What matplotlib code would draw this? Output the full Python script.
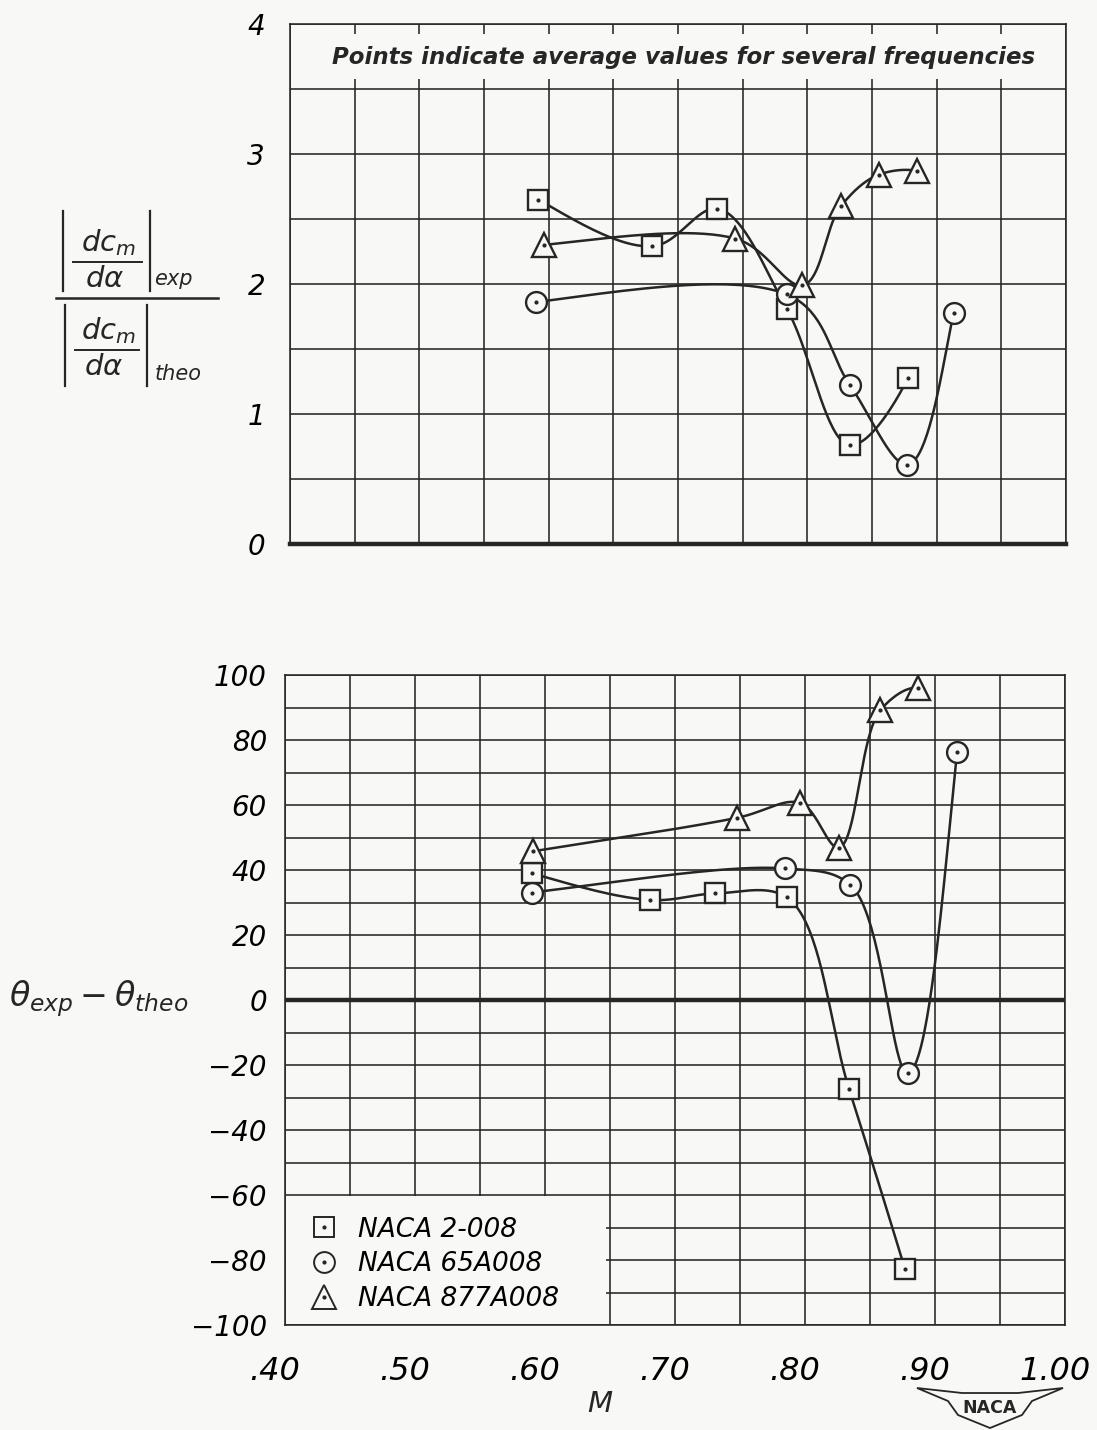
import numpy as np
import matplotlib
matplotlib.use("Agg")
import matplotlib.pyplot as plt
from matplotlib.patches import Rectangle, Polygon
from matplotlib.lines import Line2D
from matplotlib.transforms import ScaledTranslation

plt.rcParams["font.family"] = ["DejaVu Sans"]
plt.rcParams["font.style"] = "italic"
plt.rcParams["mathtext.fontset"] = "dejavusans"

PAPER = "#f8f8f6"
INK = "#262626"
W, H = 1097, 1430

# Mach number / ratio of pitching-moment slopes (exp / theo)
m_top_2008 = [0.592, 0.680, 0.730, 0.784, 0.833, 0.878]
r_top_2008 = [2.65, 2.29, 2.58, 1.81, 0.76, 1.28]
m_top_65a = [0.590, 0.784, 0.833, 0.877, 0.913]
r_top_65a = [1.86, 1.92, 1.22, 0.61, 1.78]
m_top_877 = [0.596, 0.744, 0.796, 0.826, 0.855, 0.885]
r_top_877 = [2.30, 2.35, 1.99, 2.60, 2.84, 2.87]

# Mach number / phase difference (deg)
m_bot_2008 = [0.590, 0.681, 0.731, 0.786, 0.834, 0.877]
p_bot_2008 = [39.0, 30.8, 32.8, 31.6, -27.5, -82.9]
m_bot_65a = [0.590, 0.785, 0.835, 0.879, 0.917]
p_bot_65a = [33.1, 40.5, 35.4, -22.4, 76.4]
m_bot_877 = [0.591, 0.748, 0.796, 0.826, 0.858, 0.887]
p_bot_877 = [45.8, 56.1, 60.7, 46.9, 89.2, 95.9]

airfoils = ["NACA 2-008", "NACA 65A008", "NACA 877A008"]
markers = ["s", "o", "^"]
marker_sizes = [14, 15, 17]

x_ticks = [0.40, 0.50, 0.60, 0.70, 0.80, 0.90, 1.00]
x_tick_labels = [".40", ".50", ".60", ".70", ".80", ".90", "1.00"]
top_y_ticks = [0, 1, 2, 3, 4]
top_y_labels = ["0", "1", "2", "3", "4"]
bot_y_ticks = [-100, -80, -60, -40, -20, 0, 20, 40, 60, 80, 100]
bot_y_labels = ["\u2212100", "\u221280", "\u221260", "\u221240", "\u221220",
                "0", "20", "40", "60", "80", "100"]


def faired(xs, ys, sx, sy, n=40, alpha=0.5):
    # centripetal Catmull-Rom through the test points; end points get a
    # quadratic run-out so the curve keeps bending past the last point
    P = np.column_stack([np.asarray(xs) / sx, np.asarray(ys) / sy])
    head = 3 * P[0] - 3 * P[1] + P[2]
    tail = 3 * P[-1] - 3 * P[-2] + P[-3]
    P = np.vstack([head, P, tail])
    out = []
    for i in range(1, len(P) - 2):
        p0, p1, p2, p3 = P[i - 1], P[i], P[i + 1], P[i + 2]
        t0 = 0.0
        t1 = t0 + np.linalg.norm(p1 - p0) ** alpha
        t2 = t1 + np.linalg.norm(p2 - p1) ** alpha
        t3 = t2 + np.linalg.norm(p3 - p2) ** alpha
        t = np.linspace(t1, t2, n)[:, None]
        a1 = (t1 - t) / (t1 - t0) * p0 + (t - t0) / (t1 - t0) * p1
        a2 = (t2 - t) / (t2 - t1) * p1 + (t - t1) / (t2 - t1) * p2
        a3 = (t3 - t) / (t3 - t2) * p2 + (t - t2) / (t3 - t2) * p3
        b1 = (t2 - t) / (t2 - t0) * a1 + (t - t0) / (t2 - t0) * a2
        b2 = (t3 - t) / (t3 - t1) * a2 + (t - t1) / (t3 - t1) * a3
        out.append((t2 - t) / (t2 - t1) * b1 + (t - t1) / (t2 - t1) * b2)
    c = np.vstack(out)
    return c[:, 0] * sx, c[:, 1] * sy


def draw_series(ax, xs, ys, marker, ms, sy):
    cx, cy = faired(xs, ys, 0.6, sy)
    ax.plot(cx, cy, color=INK, lw=1.8, zorder=3)
    ax.plot(xs, ys, ls="none", marker=marker, ms=ms, mfc=PAPER, mec=INK,
            mew=1.7, zorder=4)
    ax.plot(xs, ys, ls="none", marker="o", ms=2, color=INK, zorder=5)


def style_grid(ax, ygrid):
    ax.set_xlim(0.40, 1.00)
    ax.set_facecolor(PAPER)
    ax.set_xticks(np.arange(0.40, 1.001, 0.05), minor=True)
    ax.set_yticks(ygrid, minor=True)
    ax.grid(True, which="both", color=INK, lw=1.15)
    ax.set_axisbelow(True)
    ax.tick_params(which="both", length=0)
    for s in ax.spines.values():
        s.set_color(INK)
        s.set_linewidth(1.15)


def px(x, y):
    return x / W, 1 - y / H


fig = plt.figure(figsize=(10.97, 14.30), dpi=100, facecolor=PAPER)

# ---- upper chart: slope ratio ----
ax1 = fig.add_axes([0.2644, 0.6196, 0.7074, 0.3636])
style_grid(ax1, np.arange(0, 4.01, 0.5))
ax1.set_ylim(0, 4)
ax1.set_xticks(x_ticks)
ax1.set_xticklabels([])
ax1.set_yticks(top_y_ticks)
ax1.set_yticklabels(top_y_labels, fontsize=20)
ax1.tick_params(axis="y", pad=18)
ax1.spines["bottom"].set_linewidth(3.2)

ax1.add_patch(Rectangle((0.4015, 3.58), 0.596, 0.34, facecolor=PAPER,
                        edgecolor="none", zorder=1))
ax1.text(0.704, 3.74, "Points indicate average values for several frequencies",
         fontsize=16.5, fontweight="bold", ha="center", va="center",
         color=INK, zorder=6)

top_sets = [(m_top_2008, r_top_2008), (m_top_65a, r_top_65a), (m_top_877, r_top_877)]
for (xs, ys), mk, ms in zip(top_sets, markers, marker_sizes):
    draw_series(ax1, xs, ys, mk, ms, 4.0)

# ---- lower chart: phase difference ----
ax2 = fig.add_axes([0.2598, 0.0734, 0.7110, 0.4545])
style_grid(ax2, np.arange(-100, 101, 10))
ax2.set_ylim(-100, 100)
ax2.set_xticks(x_ticks)
ax2.set_xticklabels(x_tick_labels, fontsize=23)
ax2.set_yticks(bot_y_ticks)
ax2.set_yticklabels(bot_y_labels, fontsize=20)
ax2.tick_params(axis="y", pad=13)
ax2.tick_params(axis="x", pad=22)
shift = ScaledTranslation(-10 / 100, 0, fig.dpi_scale_trans)
for lab in ax2.get_xticklabels():
    lab.set_transform(lab.get_transform() + shift)
ax2.axhline(0, color=INK, lw=3.2, zorder=2)

bot_sets = [(m_bot_2008, p_bot_2008), (m_bot_65a, p_bot_65a), (m_bot_877, p_bot_877)]
for (xs, ys), mk, ms in zip(bot_sets, markers, marker_sizes):
    draw_series(ax2, xs, ys, mk, ms, 200.0)

# key box blanks out the grid in the lower-left corner
ax2.add_patch(Rectangle((0.4008, -99.6), 0.2465, 39.2, facecolor=PAPER,
                        edgecolor="none", zorder=1))
handles = []
for mk, ms in zip(markers, marker_sizes):
    h1 = Line2D([], [], ls="none", marker=mk, ms=ms, mfc=PAPER, mec=INK, mew=1.4)
    h2 = Line2D([], [], ls="none", marker="o", ms=2, color=INK)
    handles.append((h1, h2))
ax2.legend(handles, airfoils, loc="upper left", bbox_to_anchor=(0.016, 0.183),
           frameon=False, fontsize=19, handlelength=1.2, handletextpad=0.7,
           labelspacing=0.33, borderaxespad=0)

# upper ordinate title: |dcm/da|exp over |dcm/da|theo
def slope_group(xl, xr, ytop, ybot, ybar, sub, xsub):
    for xb in (xl, xr):
        fig.add_artist(Line2D(*zip(px(xb, ytop), px(xb, ybot)), color=INK,
                              lw=1.6, transform=fig.transFigure))
    xm = (xl + xr) / 2 + 2
    fig.add_artist(Line2D(*zip(px(xl + 10, ybar), px(xr - 8, ybar)), color=INK,
                          lw=1.4, transform=fig.transFigure))
    fig.text(*px(xm, ybar - 4), r"$dc_m$", fontsize=21, ha="center",
             va="bottom", color=INK)
    fig.text(*px(xm - 4, ybar + 3), r"$d\alpha$", fontsize=21, ha="center",
             va="top", color=INK)
    fig.text(*px(xsub, ybot - 2), sub, fontsize=15, ha="left", va="bottom",
             color=INK)


slope_group(63, 150, 211, 291, 262, "exp", 154)
fig.add_artist(Line2D(*zip(px(56, 298), px(218, 298)), color=INK, lw=1.8,
                      transform=fig.transFigure))
slope_group(65, 147, 305, 386, 350, "theo", 155)

fig.text(0.008, 0.302, r"$\theta_{exp} - \theta_{theo}$", fontsize=24,
         ha="left", va="center", color=INK)
fig.text(0.547, 0.018, "M", fontsize=21, ha="center", va="center", color=INK)

# NACA wing mark
wing = np.array([px(917, 1388), px(962, 1393), px(1018, 1393), px(1063, 1388),
                 px(1032, 1401), px(1022, 1415), px(990, 1428), px(958, 1415),
                 px(948, 1401)])
fig.add_artist(Polygon(wing, closed=True, facecolor=PAPER, edgecolor=INK,
                       lw=1.3, transform=fig.transFigure))
fig.text(*px(990, 1408), "NACA", fontsize=12.5, fontweight="bold",
         style="normal", ha="center", va="center", color=INK)

fig.savefig("out.png", dpi=100, facecolor=PAPER)
